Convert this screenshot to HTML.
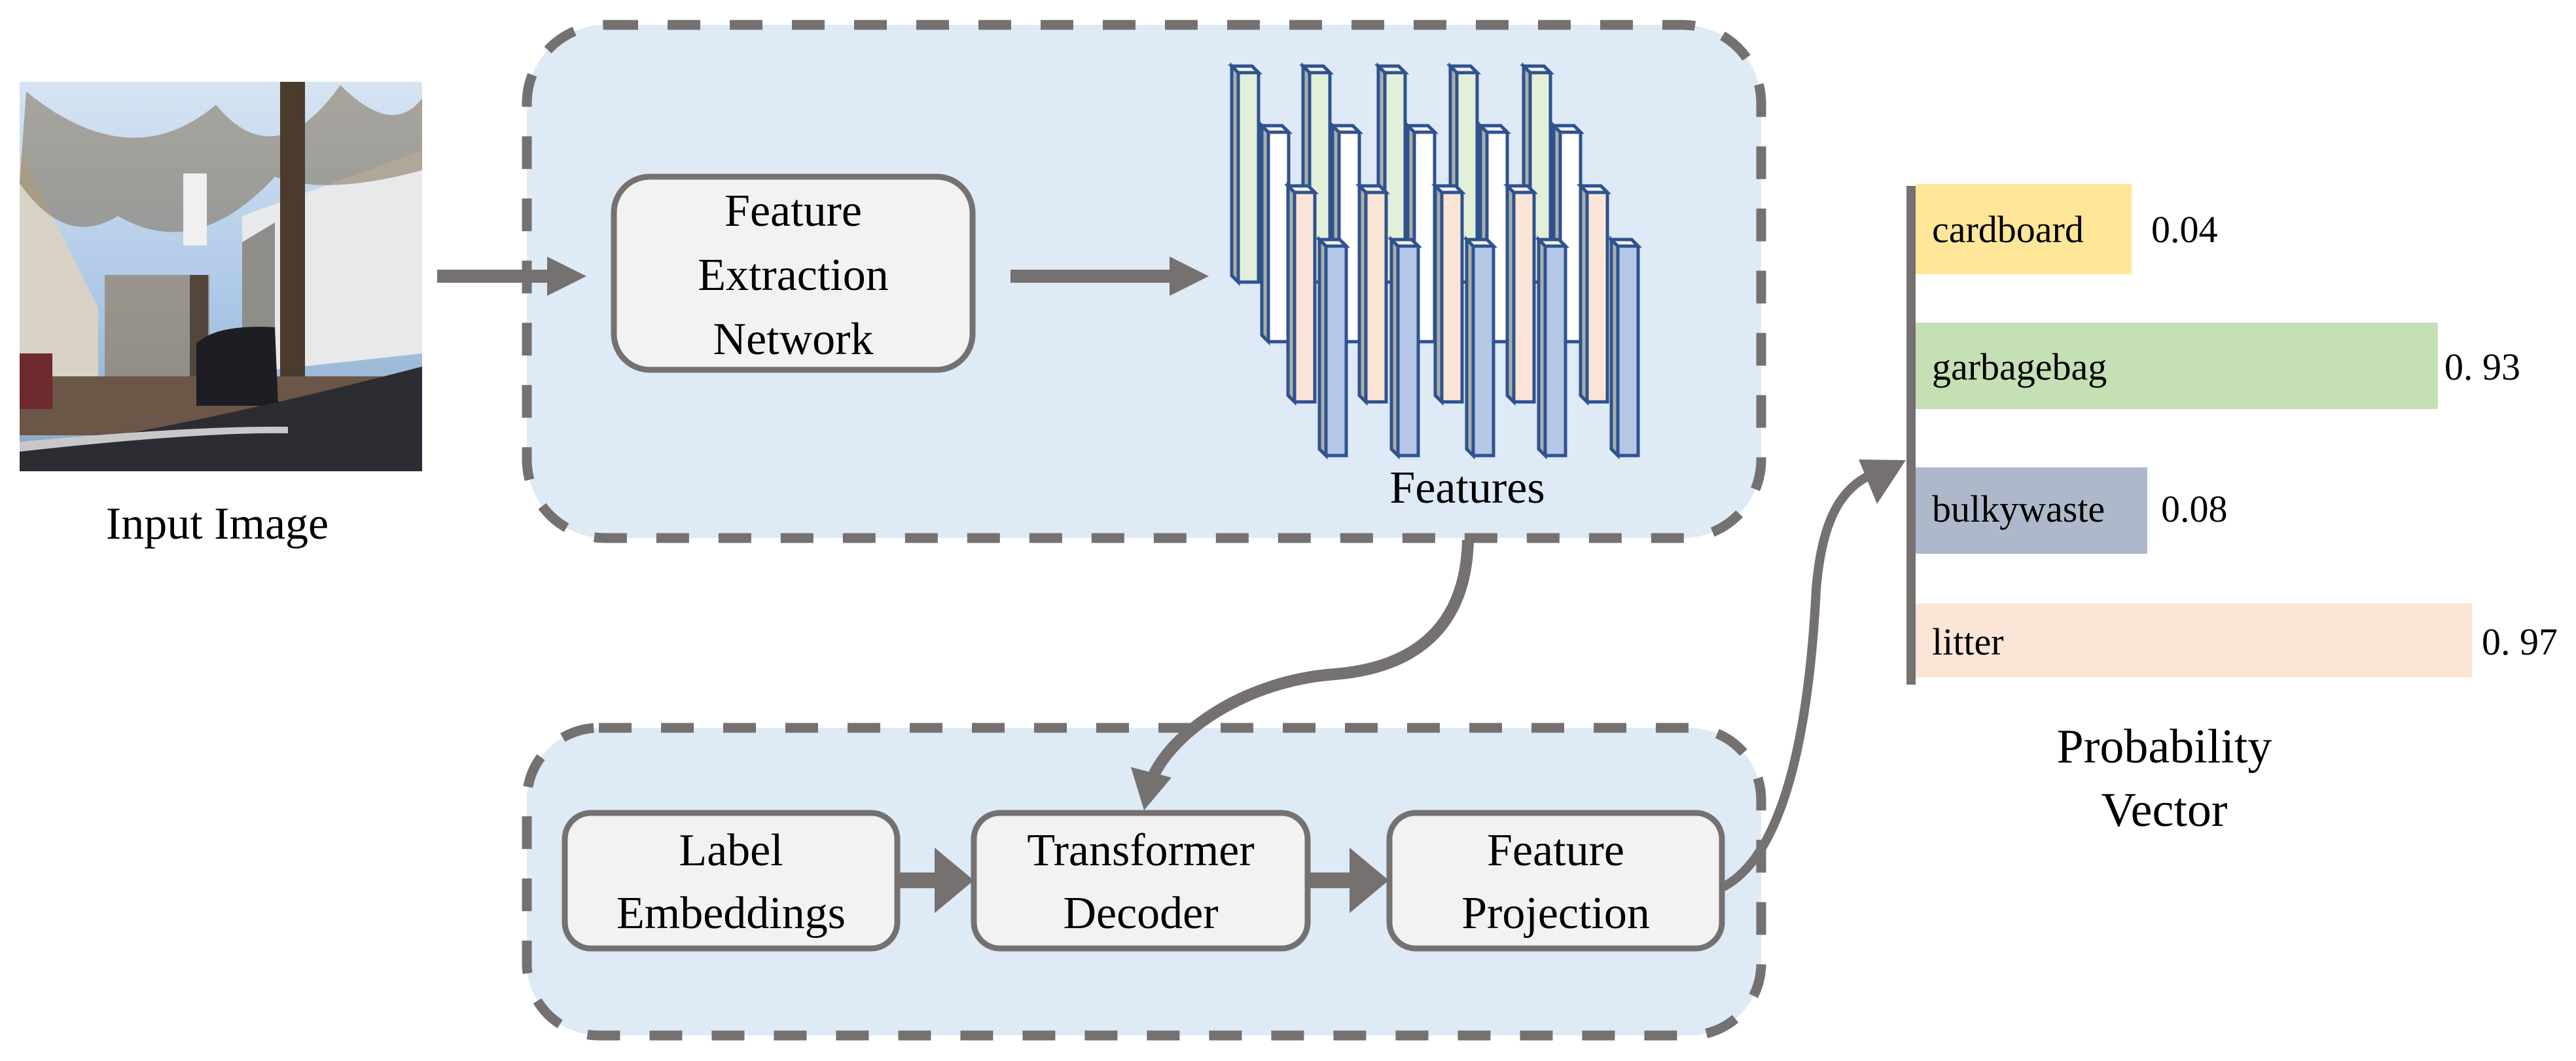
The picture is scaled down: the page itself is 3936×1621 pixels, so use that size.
<!DOCTYPE html>
<html><head><meta charset="utf-8"><style>
html,body{margin:0;padding:0;background:#fff}
svg{display:block}
svg text{font-family:"Liberation Serif","Times New Roman",Times,"DejaVu Serif",serif}
</style></head><body>
<svg width="3936" height="1621" viewBox="0 0 3936 1621" xmlns="http://www.w3.org/2000/svg" xmlns:xlink="http://www.w3.org/1999/xlink" style="font-family:'Liberation Serif','Times New Roman',Times,serif">
<defs>
<linearGradient id="sky" x1="0" y1="0" x2="0" y2="1">
<stop offset="0" stop-color="#d6e4f2"/><stop offset="0.6" stop-color="#a9c6e6"/><stop offset="1" stop-color="#8aa4c0"/>
</linearGradient>
<g id="bar" stroke="#2f528f" stroke-width="5" stroke-linejoin="miter">
<path d="M0,0 H31 L41,10 V330 H10 L0,320 Z" fill="currentColor"/>
<path d="M0,0 L10,10 V330 L0,320 Z" fill="#a8b0a8"/>
<path d="M0,0 H31 L41,10 H10 Z" fill="#f4f4ec"/>
</g>
</defs>

<g>
<rect x="30" y="125" width="615" height="595" fill="url(#sky)"/>
<polygon points="30,230 150,470 150,620 30,640" fill="#d8d2c6"/>
<polygon points="370,330 645,230 645,540 370,570" fill="#e8e9eb"/>
<polygon points="370,370 420,340 420,570 370,570" fill="#8e8d8a"/>
<path d="M40,140 Q200,270 330,160 Q420,270 520,130 Q600,210 645,150 L645,260 Q500,300 420,270 Q300,400 180,330 Q100,380 30,280 Z" fill="#7a6648" opacity="0.5"/>
<rect x="160" y="420" width="160" height="170" fill="#8a7250" opacity="0.6"/>
<rect x="428" y="125" width="38" height="545" fill="#4a3b2c"/>
<rect x="290" y="420" width="28" height="200" fill="#54463a"/>
<rect x="280" y="265" width="36" height="110" fill="#f0f0f0"/>
<rect x="30" y="575" width="615" height="90" fill="#6b5647"/>
<path d="M300,525 Q330,495 420,500 L425,620 L300,620 Z" fill="#1c1e24"/>
<rect x="30" y="540" width="50" height="85" fill="#6e2a2e"/>
<path d="M30,690 Q300,650 645,560 L645,720 L30,720 Z" fill="#2b2d33"/>
<path d="M30,690 Q300,660 440,662 L440,652 Q300,650 30,675 Z" fill="#c8c8c8"/>
</g>
<text x="332" y="823" font-size="70" text-anchor="middle">Input Image</text>

<rect x="805" y="38" width="1886" height="784" rx="120" fill="#deeaf6" stroke="#767171" stroke-width="15" stroke-dasharray="50 45"/>

<rect x="668" y="412" width="170" height="20" fill="#767171"/>
<polygon points="836,392 896,422 836,452" fill="#767171"/>

<rect x="938" y="270" width="548" height="295" rx="55" fill="#f2f2f2" stroke="#767171" stroke-width="9"/>
<text font-size="70" text-anchor="middle"><tspan x="1212" y="345">Feature</tspan><tspan x="1212" y="443">Extraction</tspan><tspan x="1212" y="541">Network</tspan></text>

<rect x="1544" y="412" width="245" height="20" fill="#767171"/>
<polygon points="1787,392 1847,422 1787,452" fill="#767171"/>

<g style="color:#e2f0d9">
<use xlink:href="#bar" href="#bar" transform="translate(1882,101)"/>
<use xlink:href="#bar" href="#bar" transform="translate(1991,101)"/>
<use xlink:href="#bar" href="#bar" transform="translate(2106,101)"/>
<use xlink:href="#bar" href="#bar" transform="translate(2216,101)"/>
<use xlink:href="#bar" href="#bar" transform="translate(2328,101)"/>
</g>
<g style="color:#ffffff">
<use xlink:href="#bar" href="#bar" transform="translate(1928,192)"/>
<use xlink:href="#bar" href="#bar" transform="translate(2036,192)"/>
<use xlink:href="#bar" href="#bar" transform="translate(2151,192)"/>
<use xlink:href="#bar" href="#bar" transform="translate(2262,192)"/>
<use xlink:href="#bar" href="#bar" transform="translate(2374,192)"/>
</g>
<g style="color:#fbe5d6">
<use xlink:href="#bar" href="#bar" transform="translate(1968,284)"/>
<use xlink:href="#bar" href="#bar" transform="translate(2077,284)"/>
<use xlink:href="#bar" href="#bar" transform="translate(2193,284)"/>
<use xlink:href="#bar" href="#bar" transform="translate(2303,284)"/>
<use xlink:href="#bar" href="#bar" transform="translate(2415,284)"/>
</g>
<g style="color:#b4c7e7">
<use xlink:href="#bar" href="#bar" transform="translate(2016,366)"/>
<use xlink:href="#bar" href="#bar" transform="translate(2126,366)"/>
<use xlink:href="#bar" href="#bar" transform="translate(2241,366)"/>
<use xlink:href="#bar" href="#bar" transform="translate(2351,366)"/>
<use xlink:href="#bar" href="#bar" transform="translate(2462,366)"/>
</g>
<text x="2242" y="768" font-size="70" text-anchor="middle">Features</text>

<rect x="805" y="1112" width="1886" height="470" rx="110" fill="#deeaf6" stroke="#767171" stroke-width="15" stroke-dasharray="50 45"/>

<path d="M2243,825 C2240,960 2160,1020 2040,1030 C1900,1040 1790,1120 1760,1190" fill="none" stroke="#767171" stroke-width="18"/>
<polygon points="1728,1172 1790,1188 1748,1238" fill="#767171"/>

<g fill="#f2f2f2" stroke="#767171" stroke-width="9">
<rect x="863" y="1242" width="508" height="207" rx="40"/>
<rect x="1488" y="1242" width="510" height="207" rx="40"/>
<rect x="2123" y="1242" width="508" height="207" rx="40"/>
</g>
<g font-size="70" text-anchor="middle">
<text x="1117" y="1322">Label</text><text x="1117" y="1418">Embeddings</text>
<text x="1743" y="1322">Transformer</text><text x="1743" y="1418">Decoder</text>
<text x="2377" y="1322">Feature</text><text x="2377" y="1418">Projection</text>
</g>
<rect x="1371" y="1333" width="70" height="24" fill="#767171"/>
<polygon points="1428,1295 1488,1345 1428,1395" fill="#767171"/>
<rect x="1998" y="1333" width="70" height="24" fill="#767171"/>
<polygon points="2062,1295 2122,1345 2062,1395" fill="#767171"/>

<path d="M2633,1355 C2700,1320 2760,1200 2775,900 C2785,780 2820,740 2870,720" fill="none" stroke="#767171" stroke-width="14"/>
<polygon points="2840,702 2912,703 2868,770" fill="#767171"/>

<rect x="2927" y="281" width="330" height="138" fill="#ffe699"/>
<rect x="2927" y="493" width="798" height="132" fill="#c5e0b4"/>
<rect x="2927" y="714" width="354" height="132" fill="#adb9ca"/>
<rect x="2927" y="922" width="850" height="113" fill="#fbe5d6"/>
<rect x="2913" y="284" width="14" height="762" fill="#767171"/>
<g font-size="58">
<text x="2952" y="370">cardboard</text><text x="3287" y="370">0.04</text>
<text x="2952" y="580">garbagebag</text><text x="3735" y="580">0. 93</text>
<text x="2952" y="797">bulkywaste</text><text x="3302" y="797">0.08</text>
<text x="2952" y="1000">litter</text><text x="3792" y="1000">0. 97</text>
</g>
<text x="3307" y="1165" font-size="74" text-anchor="middle">Probability</text>
<text x="3307" y="1262" font-size="74" text-anchor="middle">Vector</text>
</svg>
</body></html>
